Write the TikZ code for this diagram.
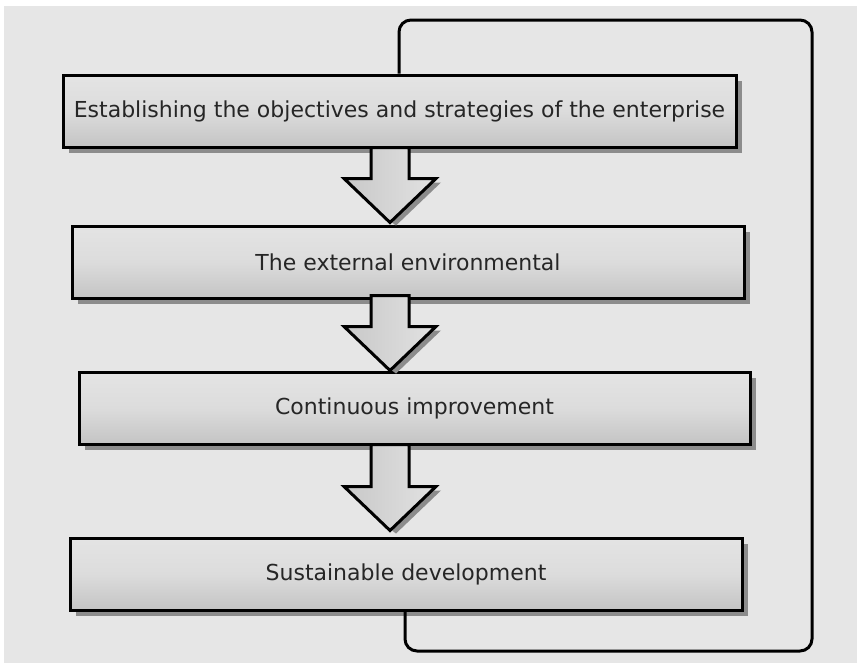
\documentclass[tikz,border=0pt]{standalone}
\usepackage{fontspec}
\setmainfont{DejaVu Sans}
\usetikzlibrary{calc}
\definecolor{bgcol}{HTML}{E6E6E6}
\definecolor{shcol}{HTML}{8C8C8C}
\tikzset{
  box/.style={draw=black, line width=3pt, top color=boxtop, bottom color=boxbot, middle color=boxmid,
    minimum height=72pt, inner sep=0pt, font=\fontsize{22}{24}\selectfont, text=black!85},
  boxshadow/.style={fill=shcol},
  blk/.style={draw=black, line width=3pt, line join=miter, left color=arrl, right color=arrr},
  blkshadow/.style={fill=shcol},
  loopline/.style={draw=black, line width=3pt, rounded corners=12pt},
}
\definecolor{boxtop}{HTML}{E4E4E4}
\definecolor{boxmid}{HTML}{DCDCDC}
\definecolor{boxbot}{HTML}{C4C4C4}
\definecolor{arrl}{HTML}{C8C8C8}
\definecolor{arrr}{HTML}{E2E2E2}
\newcommand\blkarrow[2]{% #1 top coordinate, #2 tip coordinate
  \path let \p1=(#1), \p2=(#2) in
    [blkshadow] (\x1+22,\y2+40) -- (\x1+51,\y2+40) -- (\x1+6,\y2-3) -- (\x1+2,\y2) -- (\x1+44,\y2+44) -- cycle;
  \path let \p1=(#1), \p2=(#2) in
    [blk] (\x1-19,\y1) -- (\x1-19,\y2+44) -- (\x1-46,\y2+44) -- (\x1,\y2) -- (\x1+46,\y2+44) -- (\x1+19,\y2+44) -- (\x1+19,\y1) -- cycle;
}
\begin{document}
\begin{tikzpicture}[x=1pt,y=-1pt]
\useasboundingbox (0,0) rectangle (857,667);
\fill[white] (0,0) rectangle (857,667);
\fill[bgcol] (4,6) rectangle (857,663);
% shadows
\fill[boxshadow] (69,81) rectangle (742,153);
\fill[boxshadow] (78,232) rectangle (750,304);
\fill[boxshadow] (85,378) rectangle (756,450);
\fill[boxshadow] (76,544) rectangle (748,616);
% feedback loop
\coordinate (lb) at (405,651);
\coordinate (lr) at (812,20);
\node[box, minimum width=673pt] (b1) at (399.5,111) {Establishing the objectives and strategies of the enterprise};
\node[box, minimum width=672pt] (b2) at (408,262) {The external environmental};
\node[box, minimum width=671pt] (b3) at (414.5,408) {Continuous improvement};
\node[box, minimum width=672pt] (b4) at (406,574) {Sustainable development};
\draw[loopline] (b4.south -| lb) -- (lb) -- (lb -| lr) -- (lr) -- (399,20) -- (b1.north -| 399,0);
% block arrows
\coordinate (ax) at (390,0);
\coordinate (a1t) at ($(b1.south -| ax)+(0,-1)$);
\coordinate (a1h) at ($(b2.north -| ax)+(0,-2)$);
\coordinate (a2t) at ($(b2.south -| ax)+(0,-4)$);
\coordinate (a2h) at ($(b3.north -| ax)+(0,0)$);
\coordinate (a3t) at ($(b3.south -| ax)+(0,-1)$);
\coordinate (a3h) at ($(b4.north -| ax)+(0,-6)$);
\blkarrow{a1t}{a1h}
\blkarrow{a2t}{a2h}
\blkarrow{a3t}{a3h}
\end{tikzpicture}
\end{document}
